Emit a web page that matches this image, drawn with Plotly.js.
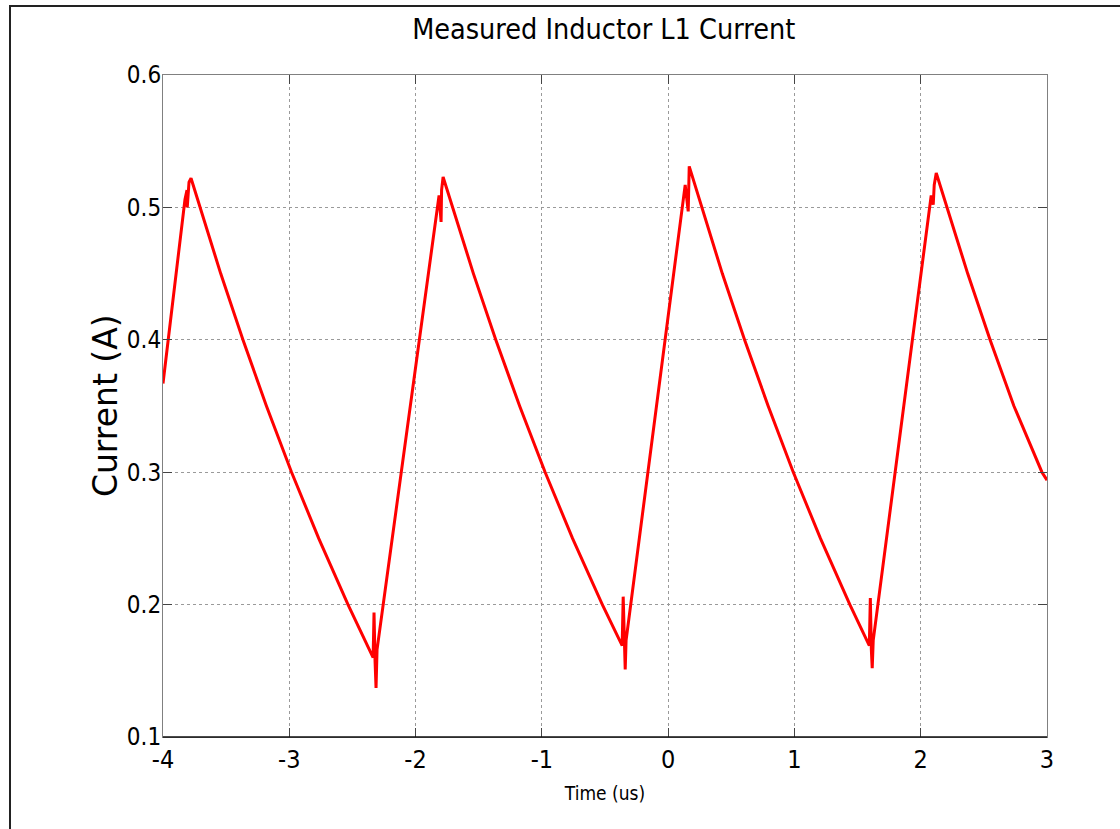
<!DOCTYPE html>
<html>
<head>
<meta charset="utf-8">
<script src="https://cdn.plot.ly/plotly-3.0.1.min.js"></script>
<style>
  html, body { margin: 0; padding: 0; background: #fff; overflow: hidden; }
  #frame { position: absolute; left: 9px; top: 5px; width: 1200px; height: 900px;
           border-left: 2px solid #222; border-top: 2px solid #222; pointer-events: none; z-index: 5; }
  #chart { position: absolute; left: 0; top: 0; width: 1120px; height: 829px; }
</style>
</head>
<body>
<div id="chart"></div>
<div id="frame"></div>
<script>
// Measured inductor L1 current (time in microseconds, current in amperes)
const time_us = [
  -4.000, -3.826, -3.810, -3.808, -3.794, -3.778,
  -3.543, -3.367, -3.181, -2.982, -2.767, -2.535, -2.336,
  -2.329, -2.321, -2.313, -2.305,
  -1.814, -1.798, -1.794, -1.782,
  -1.542, -1.365, -1.176, -0.974, -0.757, -0.521, -0.364,
  -0.356, -0.348, -0.340, -0.333,
  0.135, 0.159, 0.163, 0.167,
  0.429, 0.605, 0.792, 0.991, 1.206, 1.439, 1.593,
  1.601, 1.609, 1.616, 1.624,
  2.083, 2.099, 2.107, 2.123,
  2.372, 2.549, 2.738, 2.960, 3.000
];
const current_A = [
  0.367, 0.506, 0.513, 0.500, 0.519, 0.522,
  0.450, 0.400, 0.350, 0.300, 0.250, 0.200, 0.160,
  0.194, 0.158, 0.137, 0.166,
  0.509, 0.489, 0.513, 0.523,
  0.450, 0.400, 0.350, 0.300, 0.250, 0.200, 0.169,
  0.206, 0.167, 0.151, 0.173,
  0.517, 0.497, 0.521, 0.531,
  0.450, 0.400, 0.350, 0.300, 0.250, 0.200, 0.169,
  0.205, 0.166, 0.152, 0.173,
  0.509, 0.502, 0.517, 0.526,
  0.450, 0.400, 0.350, 0.300, 0.294
];
const xTicks = [-4, -3, -2, -1, 0, 1, 2, 3];
const xTickText = ['-4', '-3', '-2', '-1', '0', '1', '2', '3'];
const yTicks = [0.1, 0.2, 0.3, 0.4, 0.5, 0.6];
const yTickText = ['0.1', '0.2', '0.3', '0.4', '0.5', '0.6'];

const NARROW = 'Liberation Sans Narrow, Arial Narrow, DejaVu Sans Condensed, Liberation Sans, sans-serif';

const trace = {
  x: time_us, y: current_A, type: 'scatter', mode: 'lines',
  line: { color: '#ff0000', width: 3 }, hoverinfo: 'none'
};

const axisCommon = {
  showline: true, linecolor: '#808080', linewidth: 1, mirror: 'ticks',
  ticks: 'inside', ticklen: 9, tickwidth: 1, tickcolor: '#444',
  showgrid: true, gridcolor: '#9a9a9a', griddash: 'dot', gridwidth: 1,
  zeroline: false, tickfont: { family: NARROW, size: 25, color: '#000' }
};

const layout = {
  width: 1120, height: 829,
  margin: { l: 163, r: 73, t: 75, b: 92 },
  paper_bgcolor: '#fff', plot_bgcolor: '#fff',
  showlegend: false,
  title: { text: 'Measured Inductor L1 Current', font: { family: NARROW, size: 28.5, color: '#000' },
           x: 0.539, xanchor: 'center', y: 1, yanchor: 'top', yref: 'container', pad: {t: 19} },
  xaxis: Object.assign({}, axisCommon, {
    range: [-4, 3], tickvals: xTicks, ticktext: xTickText, ticklabelstandoff: 0,
    title: { text: 'Time (us)', font: { family: NARROW, size: 19, color: '#000' }, standoff: 13 }
  }),
  yaxis: Object.assign({}, axisCommon, {
    range: [0.1, 0.6], tickvals: yTicks, ticktext: yTickText, ticklabelstandoff: -4,
    tickfont: { family: NARROW, size: 24, color: '#000' }
  }),
  annotations: [
    { text: 'Current (A)', xref: 'paper', yref: 'paper', x: -0.0655, y: 0.5,
      xanchor: 'center', yanchor: 'middle', textangle: -90, showarrow: false,
      font: { family: 'DejaVu Sans, sans-serif', size: 33, color: '#000' } }
  ],
  shapes: [
    { type: 'line', xref: 'paper', yref: 'paper', x0: 0, x1: 1, y0: 0, y1: 0,
      line: { color: '#111', width: 1.5 } }
  ]
};

Plotly.newPlot('chart', [trace], layout, { displayModeBar: false, staticPlot: true });
</script>
</body>
</html>
